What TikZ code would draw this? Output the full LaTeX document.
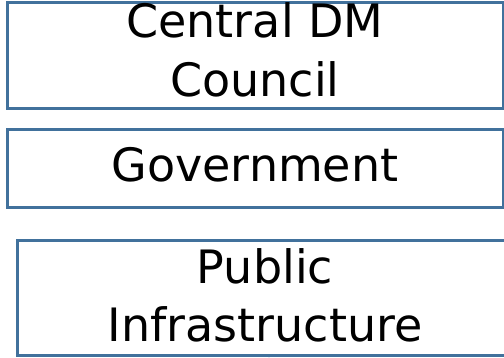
\documentclass[tikz,border=0pt]{standalone}
\usepackage{fontspec}
\setmainfont{DejaVu Sans}
\usetikzlibrary{calc,arrows.meta}
\definecolor{boxblue}{HTML}{41719C}
\definecolor{arrowblue}{HTML}{0070C0}
\begin{document}
\begin{tikzpicture}[x=1pt,y=1pt,
  box/.style={draw=boxblue, line width=3pt, fill=white, minimum width=496pt, inner sep=0pt},
  lbl/.style={anchor=base, inner sep=0pt, font=\fontsize{46}{60}\selectfont},
  tip/.style={draw=arrowblue, line width=1pt, -{Triangle[length=6pt,width=8pt]}}]
\useasboundingbox (0,0) rectangle (504,358);
\node[box, minimum height=106pt] (cdm) at (255,302) {};
\node[box, minimum height=78pt] (gov) at (255,189) {};
\node[box, minimum height=115pt] (pub) at (265,59.5) {};
\node[lbl] (t1) at (255,320) {Central DM};
\node[lbl] (t2) at (255,261) {Council};
\node[lbl] (t3) at (255,176) {Government};
\node[lbl] (t4) at (265,74) {Public};
\node[lbl] (t5) at (265,16) {Infrastructure};
\coordinate (src) at (269,-30);
\draw[tip] (src) -- (src |- pub.south);
\end{tikzpicture}
\end{document}
